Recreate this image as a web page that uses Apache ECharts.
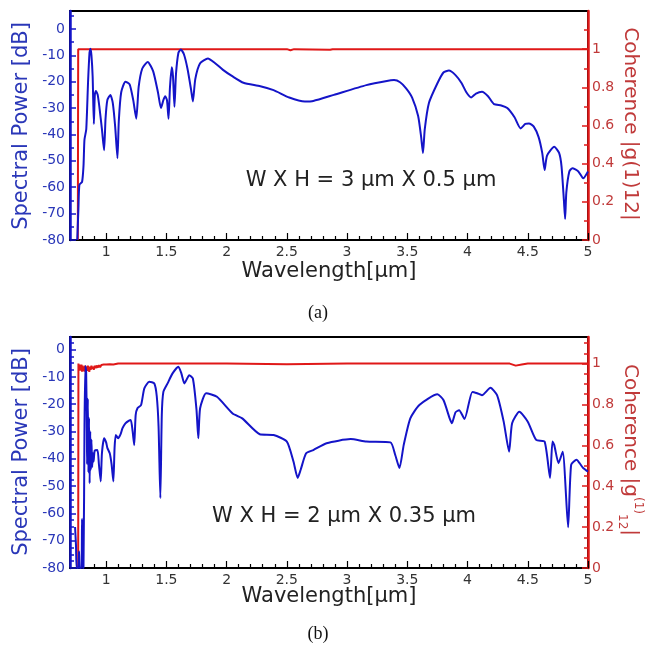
<!DOCTYPE html>
<html>
<head>
<meta charset="utf-8">
<script src="https://cdn.jsdelivr.net/npm/echarts@6/dist/echarts.min.js"></script>
<style>
html,body{margin:0;padding:0;background:#fff;}
#chart{width:655px;height:654px;}
</style>
</head>
<body>
<div id="chart"></div>
<script>
// ---------- data ----------
const xMajorTicks = [1, 1.5, 2, 2.5, 3, 3.5, 4, 4.5, 5];
const powerTicks = [-80, -70, -60, -50, -40, -30, -20, -10, 0];
const cohTicks = [0, 0.2, 0.4, 0.6, 0.8, 1];

// (a) W x H = 3 um x 0.5 um
const wlA = [0.760,0.770,0.778,0.800,0.812,0.820,0.835,0.850,0.862,0.870,0.878,0.888,0.898,0.906,0.915,0.930,0.945,0.965,0.983,0.995,1.010,1.035,1.055,1.075,1.094,1.105,1.125,1.160,1.195,1.225,1.250,1.270,1.300,1.345,1.390,1.430,1.455,1.475,1.490,1.505,1.518,1.530,1.545,1.555,1.567,1.580,1.600,1.620,1.645,1.675,1.705,1.720,1.740,1.780,1.845,1.900,1.970,2.050,2.140,2.280,2.390,2.520,2.650,2.720,2.890,3.160,3.330,3.390,3.440,3.490,3.540,3.590,3.615,3.630,3.645,3.680,3.750,3.800,3.845,3.900,3.950,3.990,4.030,4.070,4.120,4.170,4.220,4.280,4.330,4.390,4.440,4.480,4.510,4.550,4.590,4.620,4.640,4.660,4.720,4.760,4.780,4.800,4.810,4.820,4.845,4.870,4.920,4.960,5.000];
const powerA = [-80,-68,-59,-58,-52,-42,-38,-20,-9,-7.5,-10,-18,-36,-25,-23.5,-25,-30,-38,-46,-34,-27,-25,-28,-37,-49,-35,-24,-20,-21,-27,-34,-22,-15,-12.5,-16,-24,-30,-27,-25.5,-27,-34,-22,-14.5,-18,-29.5,-17,-9,-7.8,-9.5,-15,-23,-27.5,-19,-13,-11.2,-12.8,-15.5,-18,-20.4,-21.7,-23.2,-26,-27.5,-27.3,-25,-21.3,-19.7,-19.4,-20.2,-22.5,-26,-33,-41,-47,-38,-28,-20.6,-16.5,-15.8,-17.5,-20.5,-24,-26,-24.5,-23.8,-25.5,-28.5,-29,-30,-33.5,-37.7,-36,-35.8,-37,-41,-47,-53.5,-48,-44.7,-47,-52,-65,-72,-62,-54,-52.8,-54,-56.6,-54];
const cohWlA = [0.765,0.768,1.5,2.5,2.53,2.56,2.86,2.88,3.5,4.5,5.0];
const cohA = [0,1,1,1,0.994,1,0.997,1,1,1,1];

// (b) W x H = 2 um x 0.35 um
const wlB = [0.742,0.750,0.755,0.770,0.775,0.780,0.795,0.800,0.805,0.812,0.820,0.827,0.834,0.840,0.842,0.848,0.853,0.858,0.863,0.868,0.873,0.878,0.884,0.890,0.896,0.905,0.928,0.940,0.955,0.965,0.983,1.000,1.010,1.030,1.045,1.060,1.070,1.080,1.100,1.120,1.136,1.160,1.190,1.205,1.220,1.233,1.245,1.260,1.290,1.317,1.358,1.400,1.420,1.435,1.450,1.462,1.475,1.510,1.550,1.600,1.625,1.650,1.690,1.720,1.750,1.765,1.780,1.830,1.920,2.050,2.130,2.275,2.390,2.500,2.555,2.590,2.615,2.660,2.720,2.830,3.030,3.160,3.360,3.400,3.435,3.470,3.525,3.600,3.750,3.800,3.850,3.870,3.900,3.930,3.975,4.040,4.080,4.120,4.190,4.245,4.300,4.345,4.370,4.430,4.500,4.570,4.640,4.685,4.705,4.720,4.755,4.790,4.835,4.860,4.905,4.930,4.960,5.000];
const powerB = [-65,-72,-80,-80,-74,-80,-80,-62,-80,-80,-30,-6,-8,-30,-42,-18,-45,-25,-49,-30,-44,-33,-43,-38,-41,-37,-36.8,-42,-48.3,-38,-32.5,-34,-36,-38,-42,-48.3,-36,-31.3,-32.5,-31,-28.8,-27,-26,-25.8,-30,-35,-24,-21.5,-20.3,-14.2,-11.8,-12.4,-17,-28,-54.4,-24,-15.5,-12.4,-8.8,-6.3,-8.8,-12.4,-9.4,-10.6,-22,-32.5,-21.5,-16,-17.3,-23.4,-25.2,-31,-31.3,-33.7,-41,-47,-44,-38,-36.8,-34.3,-32.8,-33.7,-34,-38.6,-43.4,-35,-25.2,-20.3,-16.4,-18.5,-25,-27,-23,-22.2,-25.4,-15.5,-16,-16.7,-14,-16.7,-26.4,-37.4,-27,-22.8,-26.4,-33.1,-33.7,-47,-33.7,-35,-41.6,-37.4,-65.1,-42.2,-40.4,-41.6,-43.4,-44.7];
const cohWlB = [0.768,0.770,0.774,0.778,0.782,0.786,0.790,0.795,0.800,0.805,0.810,0.815,0.820,0.825,0.830,0.836,0.842,0.848,0.854,0.860,0.866,0.872,0.878,0.884,0.890,0.897,0.905,0.913,0.920,0.930,0.940,0.950,0.960,0.970,0.980,0.990,1.000,1.015,1.030,1.060,1.100,2.000,2.500,3.000,3.500,4.350,4.400,4.450,4.500,5.000];
const cohB = [0,1,0.97,0.995,0.965,0.99,0.97,0.995,0.96,0.99,0.965,0.985,0.96,0.99,0.97,0.985,0.965,0.99,0.975,0.96,0.985,0.97,0.99,0.975,0.985,0.97,0.99,0.978,0.99,0.98,0.992,0.982,0.993,0.985,0.995,0.988,0.996,0.99,0.997,0.995,1,1,0.997,1,1,1,0.99,0.995,1,1];

// ---------- helpers ----------
const BLUE = '#1414c8';
const BLUE_TXT = '#2a37b8';
const RED = '#e01818';
const RED_TXT = '#c03a3a';
const FONT = 'DejaVu Sans';

function range(a, b, step, skip) {
  const out = [];
  for (let i = 0; ; i++) {
    const v = +(a + i * step).toFixed(4);
    if (v > b + 1e-9) break;
    if (!skip || !skip.some(s => Math.abs(s - v) < 1e-6)) out.push(v);
  }
  return out;
}
const zip = (xs, ys) => xs.map((x, i) => [x, ys[i]]);

const panels = [
  { top: 11, height: 229, pMax: 6.8, cMax: 1.2, pMinorStep: 5, cMinorStep: 0.1,
    wl: wlA, pw: powerA, cwl: cohWlA, coh: cohA },
  { top: 337, height: 231, pMax: 4.6, cMax: 1.13, pMinorStep: 2.5, cMinorStep: 0.05,
    wl: wlB, pw: powerB, cwl: cohWlB, coh: cohB }
];

const grid = [], xAxis = [], yAxis = [], series = [];
panels.forEach((p, g) => {
  grid.push({ left: 70, width: 518, top: p.top, height: p.height, show: true,
    borderColor: '#000', borderWidth: 2, backgroundColor: 'transparent', containLabel: false, outerBoundsMode: 'none' });
  const xi = xAxis.length, yi = yAxis.length;
  xAxis.push({ type: 'value', gridIndex: g, min: 0.7, max: 5, position: 'bottom',
    axisLine: { show: true, onZero: false, lineStyle: { color: '#000', width: 1.5 } },
    axisTick: { show: true, inside: true, length: 7, customValues: xMajorTicks, lineStyle: { color: '#000', width: 1.2 } },
    axisLabel: { show: true, customValues: xMajorTicks, color: '#333', fontFamily: FONT, fontSize: 14, margin: 5,
      formatter: v => String(v) },
    splitLine: { show: false } });
  xAxis.push({ type: 'value', gridIndex: g, min: 0.7, max: 5, position: 'bottom',
    axisLine: { show: false, onZero: false },
    axisTick: { show: true, inside: true, length: 4, customValues: range(0.8, 4.9, 0.1, xMajorTicks), lineStyle: { color: '#000', width: 1.2 } },
    axisLabel: { show: false }, splitLine: { show: false } });
  yAxis.push({ type: 'value', gridIndex: g, min: -80, max: p.pMax, position: 'left',
    axisLine: { show: true, onZero: false, lineStyle: { color: BLUE, width: 2.5 } },
    axisTick: { show: true, inside: true, length: 6, customValues: powerTicks, lineStyle: { color: BLUE, width: 1.5 } },
    axisLabel: { show: true, customValues: powerTicks, color: BLUE_TXT, fontFamily: FONT, fontSize: 14, margin: 5 },
    splitLine: { show: false } });
  yAxis.push({ type: 'value', gridIndex: g, min: -80, max: p.pMax, position: 'left',
    axisLine: { show: false, onZero: false },
    axisTick: { show: true, inside: true, length: 4, customValues: range(-80, p.pMax, p.pMinorStep, powerTicks), lineStyle: { color: BLUE, width: 1.5 } },
    axisLabel: { show: false }, splitLine: { show: false } });
  yAxis.push({ type: 'value', gridIndex: g, min: 0, max: p.cMax, position: 'right',
    axisLine: { show: true, onZero: false, lineStyle: { color: RED, width: 2.5 } },
    axisTick: { show: true, inside: true, length: 6, customValues: cohTicks, lineStyle: { color: RED, width: 1.5 } },
    axisLabel: { show: true, customValues: cohTicks, color: RED_TXT, fontFamily: FONT, fontSize: 14, margin: 4,
      formatter: v => String(v) },
    splitLine: { show: false } });
  yAxis.push({ type: 'value', gridIndex: g, min: 0, max: p.cMax, position: 'right',
    axisLine: { show: false, onZero: false },
    axisTick: { show: true, inside: true, length: 4, customValues: range(0, p.cMax - 0.01, p.cMinorStep, cohTicks), lineStyle: { color: RED, width: 1.5 } },
    axisLabel: { show: false }, splitLine: { show: false } });

  series.push({ type: 'line', xAxisIndex: xi, yAxisIndex: yi + 2, data: zip(p.cwl, p.coh),
    showSymbol: false, symbol: 'none', lineStyle: { color: RED, width: 2 }, z: 2, clip: true, silent: true, animation: false });
  series.push({ type: 'line', xAxisIndex: xi, yAxisIndex: yi, data: zip(p.wl, p.pw),
    showSymbol: false, symbol: 'none', smooth: 0.2, lineStyle: { color: BLUE, width: 2 }, z: 3, clip: true, silent: true, animation: false });
});

function txt(x, y, text, opts) {
  return Object.assign({ type: 'text', x: x, y: y, silent: true,
    style: Object.assign({ text: text, fill: '#222', font: '20px ' + FONT, align: 'center', verticalAlign: 'middle' }, opts.style || {}) },
    opts.extra || {});
}

const graphic = [
  txt(22, 126, 'Spectral Power [dB]', { style: { fill: BLUE_TXT, font: '21px ' + FONT }, extra: { rotation: Math.PI / 2 } }),
  txt(630, 124, 'Coherence |g(1)12|', { style: { fill: RED_TXT, font: '20px ' + FONT }, extra: { rotation: -Math.PI / 2 } }),
  txt(329, 272, 'Wavelength[μm]', { style: { fill: '#222', font: '21px ' + FONT } }),
  txt(371, 181, 'W X H = 3 μm X 0.5 μm', { style: { fill: '#222', font: '21px ' + FONT } }),
  txt(318, 313, '(a)', { style: { fill: '#111', font: '18px Liberation Serif' } }),
  txt(22, 452, 'Spectral Power [dB]', { style: { fill: BLUE_TXT, font: '21px ' + FONT }, extra: { rotation: Math.PI / 2 } }),
  { type: 'text', x: 630, y: 450, rotation: -Math.PI / 2, silent: true,
    style: { text: '{a|Coherence |g}{sup|(1)}{sub|12}{a||}', align: 'center', verticalAlign: 'middle',
      rich: {
        a: { fill: RED_TXT, fontSize: 20, fontFamily: FONT, lineHeight: 28, verticalAlign: 'middle' },
        sup: { fill: RED_TXT, fontSize: 12, fontFamily: FONT, lineHeight: 28, verticalAlign: 'top' },
        sub: { fill: RED_TXT, fontSize: 12, fontFamily: FONT, lineHeight: 24, verticalAlign: 'bottom' }
      } } },
  txt(329, 597, 'Wavelength[μm]', { style: { fill: '#222', font: '21px ' + FONT } }),
  txt(344, 517, 'W X H = 2 μm X 0.35 μm', { style: { fill: '#222', font: '21px ' + FONT } }),
  txt(318, 634, '(b)', { style: { fill: '#111', font: '18px Liberation Serif' } })
];

const chart = echarts.init(document.getElementById('chart'), null, { renderer: 'canvas' });
chart.setOption({
  animation: false,
  backgroundColor: '#fff',
  grid: grid,
  xAxis: xAxis,
  yAxis: yAxis,
  series: series,
  graphic: graphic
});
</script>
</body>
</html>
